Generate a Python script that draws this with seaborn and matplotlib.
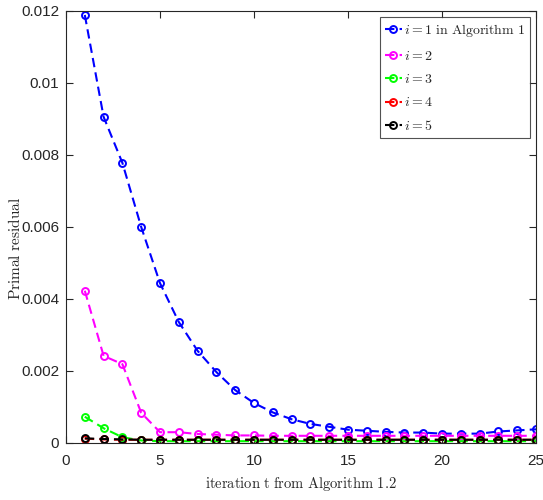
import matplotlib
matplotlib.use("Agg")
import matplotlib.pyplot as plt
import seaborn as sns
import pandas as pd
import numpy as np

# iterations
t = list(range(1, 26))

# primal residual per agent i
res_i1 = [0.01189, 0.00906, 0.00778, 0.00600, 0.00444, 0.00336, 0.00256, 0.00197,
          0.00147, 0.00111, 0.00085, 0.00066, 0.00053, 0.00045, 0.00037, 0.00034,
          0.00031, 0.00029, 0.00029, 0.00026, 0.00026, 0.00026, 0.00032, 0.00035,
          0.00038]
res_i2 = [0.00423, 0.00242, 0.00219, 0.00084, 0.00030, 0.00030, 0.00025, 0.00023,
          0.00021, 0.00021, 0.00020, 0.00020, 0.00020, 0.00020, 0.00020, 0.00020,
          0.00020, 0.00020, 0.00020, 0.00020, 0.00020, 0.00020, 0.00020, 0.00020,
          0.00020]
res_i3 = [0.00073, 0.00041, 0.00016, 0.00007, 0.00005, 0.00005, 0.00005, 0.00005,
          0.00005, 0.00005, 0.00005, 0.00005, 0.00005, 0.00005, 0.00005, 0.00005,
          0.00005, 0.00005, 0.00005, 0.00005, 0.00005, 0.00005, 0.00005, 0.00005,
          0.00005]
res_i4 = [0.00012, 0.00010, 0.00009, 0.00009, 0.00009, 0.00009, 0.00009, 0.00009,
          0.00009, 0.00009, 0.00009, 0.00009, 0.00009, 0.00009, 0.00009, 0.00009,
          0.00009, 0.00009, 0.00009, 0.00009, 0.00009, 0.00009, 0.00009, 0.00009,
          0.00009]
res_i5 = [0.00013, 0.00011, 0.00010, 0.00009, 0.00009, 0.00009, 0.00009, 0.00009,
          0.00009, 0.00009, 0.00009, 0.00009, 0.00009, 0.00009, 0.00009, 0.00009,
          0.00009, 0.00009, 0.00009, 0.00009, 0.00009, 0.00009, 0.00009, 0.00009,
          0.00009]

labels = [r'$i = 1\ \mathrm{in\ Algorithm\ 1}$', r'$i = 2$', r'$i = 3$',
          r'$i = 4$', r'$i = 5$']
colors = ['#0000ff', '#ff00ff', '#00ff00', '#ff0000', '#000000']
series = [res_i1, res_i2, res_i3, res_i4, res_i5]

sns.set_style("white")
plt.rcParams['font.family'] = ['Liberation Sans', 'DejaVu Sans']
plt.rcParams['mathtext.fontset'] = 'cm'

fig = plt.figure(figsize=(5.43, 5.00), dpi=100)
ax = fig.add_axes([66 / 543, 1 - 443 / 500, 470 / 543, 432 / 500])

for vals, lab, col in zip(series, labels, colors):
    df = pd.DataFrame({'t': t, 'r': vals})
    sns.lineplot(data=df, x='t', y='r', ax=ax, color=col, label=lab,
                 linewidth=1.5, marker='o', markersize=5,
                 markerfacecolor='none', markeredgecolor=col, markeredgewidth=1.4)
    ax.lines[-1].set_dashes([4.5, 2.5])

ax.set_xlim(0, 25)
ax.set_ylim(0, 0.012)
ax.set_xticks([0, 5, 10, 15, 20, 25])
ax.set_yticks([0, 0.002, 0.004, 0.006, 0.008, 0.01, 0.012])
ax.set_yticklabels(['0', '0.002', '0.004', '0.006', '0.008', '0.01', '0.012'])
ax.tick_params(direction='in', length=5, width=0.8, colors='#262626',
               labelsize=11, top=True, right=True, bottom=True, left=True)
ax.tick_params(axis='x', pad=8)
ax.tick_params(axis='y', pad=5)
for sp in ax.spines.values():
    sp.set_color('#262626')
    sp.set_linewidth(0.8)

ax.set_xlabel(r'$\mathrm{iteration\ t\ from\ Algorithm\ 1.2}$', fontsize=10.5,
              color='#262626', labelpad=5)
ax.set_ylabel(r'$\mathrm{Primal\ residual}$', fontsize=11, color='#262626')
ax.yaxis.set_label_coords(-0.092, 0.45)

leg = ax.legend(loc='upper right', fontsize=10, frameon=True, fancybox=False,
                edgecolor='#262626', handlelength=1.2, handletextpad=0.15,
                borderpad=0.35, labelspacing=0.68, borderaxespad=0.45)
leg.get_frame().set_linewidth(0.8)

fig.savefig('out.png', dpi=100)
